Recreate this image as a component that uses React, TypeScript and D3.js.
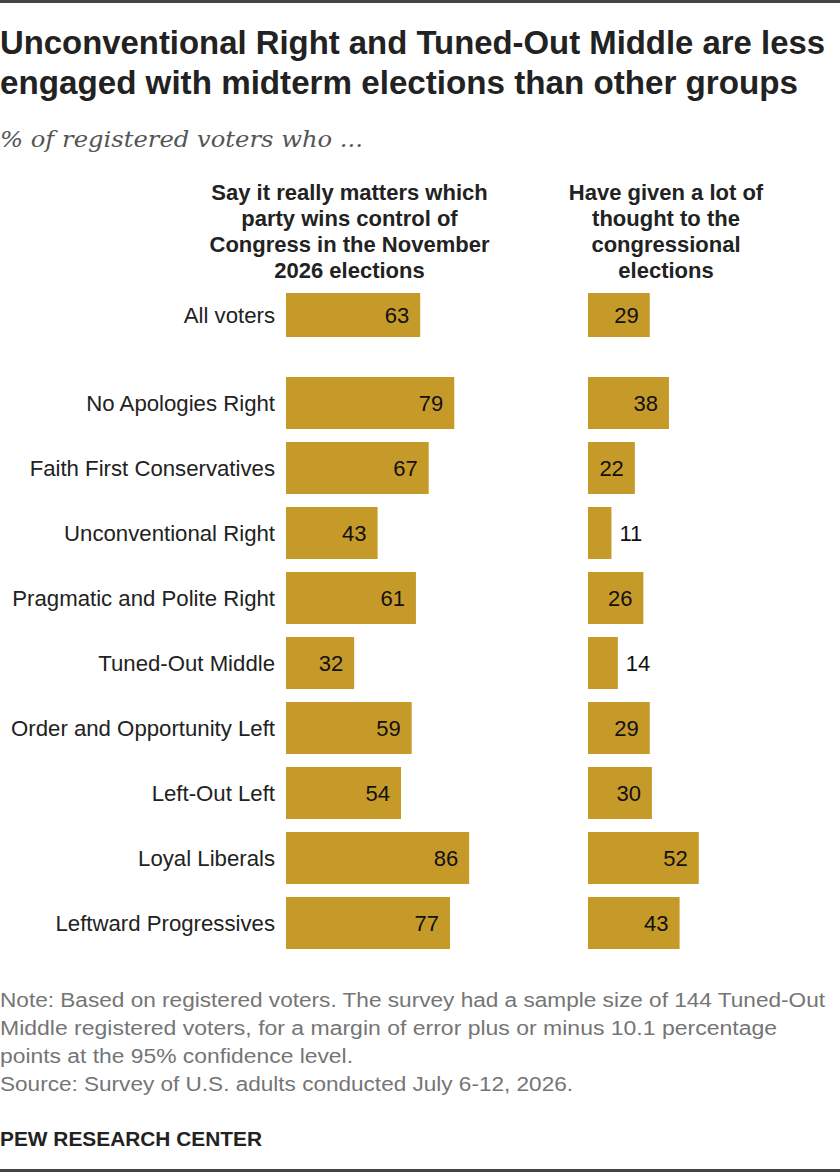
import * as d3 from "d3";
import { useEffect, useRef } from "react";

const groups = [
  "No Apologies Right",
  "Faith First Conservatives",
  "Unconventional Right",
  "Pragmatic and Polite Right",
  "Tuned-Out Middle",
  "Order and Opportunity Left",
  "Left-Out Left",
  "Loyal Liberals",
  "Leftward Progressives",
];

const totalLabel = "All voters";
const totalMatters = 63;
const totalThought = 29;

// Say it really matters which party wins control of Congress
const mattersValues = [79, 67, 43, 61, 32, 59, 54, 86, 77];
// Have given a lot of thought to the congressional elections
const thoughtValues = [38, 22, 11, 26, 14, 29, 30, 52, 43];

const titleLines = [
  "Unconventional Right and Tuned-Out Middle are less",
  "engaged with midterm elections than other groups",
];
const subtitle = "% of registered voters who ...";
const mattersHeader = [
  "Say it really matters which",
  "party wins control of",
  "Congress in the November",
  "2026 elections",
];
const thoughtHeader = [
  "Have given a lot of",
  "thought to the",
  "congressional",
  "elections",
];
const noteLines = [
  "Note: Based on registered voters. The survey had a sample size of 144 Tuned-Out",
  "Middle registered voters, for a margin of error plus or minus 10.1 percentage",
  "points at the 95% confidence level.",
  "Source: Survey of U.S. adults conducted July 6-12, 2026.",
];

const BAR = "#C69A29";
const SANS = "'Liberation Sans', Arial, sans-serif";

function EngagementChart() {
  const ref = useRef<HTMLDivElement>(null);

  useEffect(() => {
    const container = ref.current;
    if (!container) return;
    container.innerHTML = "";

    const width = 840;
    const height = 1172;

    const svg = d3.create("svg")
      .attr("width", width)
      .attr("height", height)
      .style("position", "absolute")
      .style("left", 0)
      .style("top", 0)
      .style("background", "#fff");

    // dark rules at top and bottom edge
    svg.append("rect").attr("x", 0).attr("y", 0).attr("width", width).attr("height", 3).attr("fill", "#444");
    svg.append("rect").attr("x", 0).attr("y", height - 3).attr("width", width).attr("height", 3).attr("fill", "#444");

    // title
    const titleWidths = [825, 798];
    svg.append("g")
      .selectAll("text")
      .data(titleLines)
      .join("text")
      .attr("x", 0)
      .attr("y", (_, i) => 54 + i * 40)
      .attr("font-family", SANS)
      .attr("font-weight", 700)
      .attr("font-size", 33)
      .attr("fill", "#222")
      .attr("textLength", (_, i) => titleWidths[i])
      .attr("lengthAdjust", "spacingAndGlyphs")
      .text(d => d);

    svg.append("text")
      .attr("x", 0)
      .attr("y", 147)
      .attr("font-family", "'DejaVu Serif', Georgia, serif")
      .attr("font-style", "italic")
      .attr("font-size", 23)
      .attr("fill", "#555")
      .attr("textLength", 363)
      .attr("lengthAdjust", "spacingAndGlyphs")
      .text(subtitle);

    const xLeft = 286;
    const xRight = 588;
    const x = d3.scaleLinear().domain([0, 100]).range([0, 213]);

    const y = d3.scaleBand<string>()
      .domain(groups)
      .range([370.5, 955.5])
      .paddingInner(0.2)
      .paddingOuter(0.1);

    const totalY = 293;
    const totalH = 44;

    // column headers
    const headers = [
      { lines: mattersHeader, cx: 349.5 },
      { lines: thoughtHeader, cx: 666 },
    ];
    headers.forEach(h => {
      svg.append("g")
        .selectAll("text")
        .data(h.lines)
        .join("text")
        .attr("x", h.cx)
        .attr("y", (_, i) => 200 + i * 26)
        .attr("text-anchor", "middle")
        .attr("font-family", SANS)
        .attr("font-weight", 700)
        .attr("font-size", 22)
        .attr("fill", "#222")
        .text(d => d);
    });

    type Row = { label: string; matters: number; thought: number; y: number; h: number };
    const rows: Row[] = [
      { label: totalLabel, matters: totalMatters, thought: totalThought, y: totalY, h: totalH },
      ...groups.map((g, i) => ({
        label: g,
        matters: mattersValues[i],
        thought: thoughtValues[i],
        y: y(g)!,
        h: y.bandwidth(),
      })),
    ];

    const row = svg.append("g")
      .selectAll("g")
      .data(rows)
      .join("g")
      .attr("transform", d => `translate(0,${d.y})`);

    row.append("text")
      .attr("x", 275)
      .attr("y", d => d.h / 2)
      .attr("dy", "0.36em")
      .attr("text-anchor", "end")
      .attr("font-family", SANS)
      .attr("font-size", 22.2)
      .attr("fill", "#222")
      .text(d => d.label);

    const columns: { x0: number; key: "matters" | "thought" }[] = [
      { x0: xLeft, key: "matters" },
      { x0: xRight, key: "thought" },
    ];

    columns.forEach(col => {
      row.append("rect")
        .attr("x", col.x0)
        .attr("y", 0)
        .attr("width", d => x(d[col.key]))
        .attr("height", d => d.h)
        .attr("fill", BAR);

      row.append("text")
        .attr("x", d => {
          const w = x(d[col.key]);
          return w < 40 ? col.x0 + w + 8 : col.x0 + w - 11;
        })
        .attr("y", d => d.h / 2)
        .attr("dy", "0.36em")
        .attr("text-anchor", d => (x(d[col.key]) < 40 ? "start" : "end"))
        .attr("font-family", SANS)
        .attr("font-size", 22)
        .attr("fill", "#111")
        .text(d => d[col.key]);
    });

    // note and source
    const noteWidths = [825, 777, 353, 573];
    svg.append("g")
      .selectAll("text")
      .data(noteLines)
      .join("text")
      .attr("x", 0)
      .attr("y", (_, i) => 1007 + i * 28)
      .attr("font-family", SANS)
      .attr("font-size", 20)
      .attr("fill", "#757575")
      .attr("textLength", (_, i) => noteWidths[i])
      .attr("lengthAdjust", "spacingAndGlyphs")
      .text(d => d);

    svg.append("text")
      .attr("x", 0)
      .attr("y", 1146)
      .attr("font-family", SANS)
      .attr("font-weight", 700)
      .attr("font-size", 21)
      .attr("fill", "#222")
      .attr("textLength", 262)
      .attr("lengthAdjust", "spacingAndGlyphs")
      .text("PEW RESEARCH CENTER");

    container.append(svg.node()!);
  }, []);

  return <div ref={ref}></div>;
}

export default function App() {
  return <EngagementChart />;
}
